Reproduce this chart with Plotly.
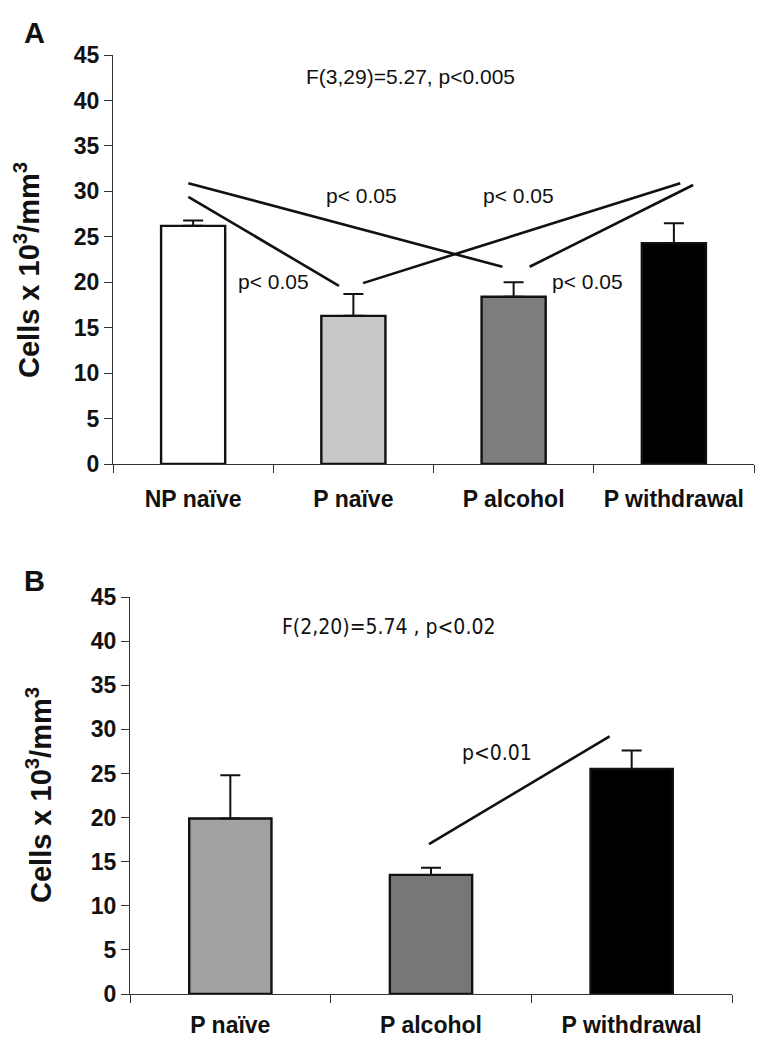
import plotly.graph_objects as go

# ---------------- data ----------------
a_categories = ["NP naïve", "P naïve", "P alcohol", "P withdrawal"]
a_means = [26.2, 16.3, 18.4, 24.3]
a_sem = [0.6, 2.4, 1.6, 2.2]
a_colors = ["#ffffff", "#c8c8c8", "#7d7d7d", "#000000"]

b_categories = ["P naïve", "P alcohol", "P withdrawal"]
b_means = [19.9, 13.5, 25.5]
b_sem = [4.9, 0.8, 2.1]
b_colors = ["#a2a2a2", "#777777", "#000000"]

y_ticks = [0, 5, 10, 15, 20, 25, 30, 35, 40, 45]

# significance lines (category index, value)
a_sig_lines = [
    ((-0.03, 30.9), (1.93, 21.7)),
    ((-0.03, 29.4), (0.91, 19.6)),
    ((1.06, 19.9), (3.04, 30.9)),
    ((2.10, 21.7), (3.12, 30.7)),
]
a_sig_labels = [(1.05, 29.5, "p< 0.05"), (2.03, 29.5, "p< 0.05"),
                (0.50, 20.1, "p< 0.05"), (2.46, 20.1, "p< 0.05")]
a_stat = (1.354, 42.6, "F(3,29)=5.27, p<0.005")

b_sig_lines = [((0.99, 17.0), (1.89, 29.2))]
b_sig_labels = [(1.33, 27.3, "p<0.01")]
b_stat = (0.79, 41.6, "F(2,20)=5.74 , p<0.02")

W, H = 763, 1050
BOLD = "Liberation Sans, Arial, sans-serif"
NARROW = "DejaVu Sans Condensed, DejaVu Sans, sans-serif"

fig = go.Figure()

fig.add_trace(go.Bar(
    x=a_categories, y=a_means, width=0.4,
    marker=dict(color=a_colors, line=dict(color="#111111", width=2.4)),
    error_y=dict(type="data", symmetric=False, array=a_sem,
                 arrayminus=[0] * len(a_sem), color="#111111",
                 thickness=2, width=10),
    xaxis="x", yaxis="y", showlegend=False))

fig.add_trace(go.Bar(
    x=b_categories, y=b_means, width=0.41,
    marker=dict(color=b_colors, line=dict(color="#111111", width=2.4)),
    error_y=dict(type="data", symmetric=False, array=b_sem,
                 arrayminus=[0] * len(b_sem), color="#111111",
                 thickness=2, width=10),
    xaxis="x2", yaxis="y2", showlegend=False))

axis_common = dict(showline=True, linecolor="#333333", linewidth=1.2,
                   ticks="outside", ticklen=8, tickcolor="#333333",
                   showgrid=False, zeroline=False, automargin=False,
                   tickfont=dict(family=BOLD, size=23, color="#111111",
                                 weight="bold"))

fig.update_layout(
    template="none",
    width=W, height=H,
    margin=dict(l=0, r=0, t=0, b=0, autoexpand=False),
    paper_bgcolor="white", plot_bgcolor="white",
    bargap=0.6,
    xaxis=dict(domain=[113 / W, 754 / W], anchor="y", type="category",
               range=[-0.5, 3.5], tickson="boundaries",
               ticklabelstandoff=14, **axis_common),
    yaxis=dict(domain=[1 - 464 / H, 1 - 55 / H], anchor="x",
               range=[0, 45], tickvals=y_ticks, **axis_common),
    xaxis2=dict(domain=[130 / W, 732 / W], anchor="y2", type="category",
                range=[-0.5, 2.5], tickson="boundaries",
                ticklabelstandoff=10, **axis_common),
    yaxis2=dict(domain=[1 - 994 / H, 1 - 597 / H], anchor="x2",
                range=[0, 45], tickvals=y_ticks, **axis_common),
)

shapes = []
for (p0, p1) in a_sig_lines:
    shapes.append(dict(type="line", xref="x", yref="y",
                       x0=p0[0], y0=p0[1], x1=p1[0], y1=p1[1],
                       line=dict(color="#111111", width=2.6)))
for (p0, p1) in b_sig_lines:
    shapes.append(dict(type="line", xref="x2", yref="y2",
                       x0=p0[0], y0=p0[1], x1=p1[0], y1=p1[1],
                       line=dict(color="#111111", width=2.6)))
fig.update_layout(shapes=shapes)

ann = []
for (x, y, t) in a_sig_labels:
    ann.append(dict(x=x, y=y, xref="x", yref="y", text=t, showarrow=False,
                    xanchor="center", yanchor="middle",
                    font=dict(family=BOLD, size=21, color="#111111")))
ann.append(dict(x=a_stat[0], y=a_stat[1], xref="x", yref="y", text=a_stat[2],
                showarrow=False, xanchor="center", yanchor="middle",
                font=dict(family=BOLD, size=21, color="#111111")))
for (x, y, t) in b_sig_labels:
    ann.append(dict(x=x, y=y, xref="x2", yref="y2", text=t, showarrow=False,
                    xanchor="center", yanchor="middle",
                    font=dict(family=NARROW, size=21, color="#111111")))
ann.append(dict(x=b_stat[0], y=b_stat[1], xref="x2", yref="y2", text=b_stat[2],
                showarrow=False, xanchor="center", yanchor="middle",
                font=dict(family=NARROW, size=21, color="#111111")))

# y-axis titles
title_text = "Cells x 10<sup>3</sup>/mm<sup>3</sup>"
ann.append(dict(x=27 / W, y=1 - 270 / H, xref="paper", yref="paper",
                text=title_text, textangle=-90, showarrow=False,
                xanchor="center", yanchor="middle",
                font=dict(family=BOLD, size=29, color="#111111", weight="bold")))
ann.append(dict(x=39 / W, y=1 - 795 / H, xref="paper", yref="paper",
                text=title_text, textangle=-90, showarrow=False,
                xanchor="center", yanchor="middle",
                font=dict(family=BOLD, size=29, color="#111111", weight="bold")))

# panel letters
ann.append(dict(x=34 / W, y=1 - 33 / H, xref="paper", yref="paper", text="A",
                showarrow=False, xanchor="center", yanchor="middle",
                font=dict(family=BOLD, size=29, color="#111111", weight="bold")))
ann.append(dict(x=34 / W, y=1 - 581 / H, xref="paper", yref="paper", text="B",
                showarrow=False, xanchor="center", yanchor="middle",
                font=dict(family=BOLD, size=29, color="#111111", weight="bold")))

fig.update_layout(annotations=ann)

fig.write_html("out.html",
               config={"displayModeBar": False},
               post_script="document.body.style.margin='0px';"
                           "document.body.style.padding='0px';")
